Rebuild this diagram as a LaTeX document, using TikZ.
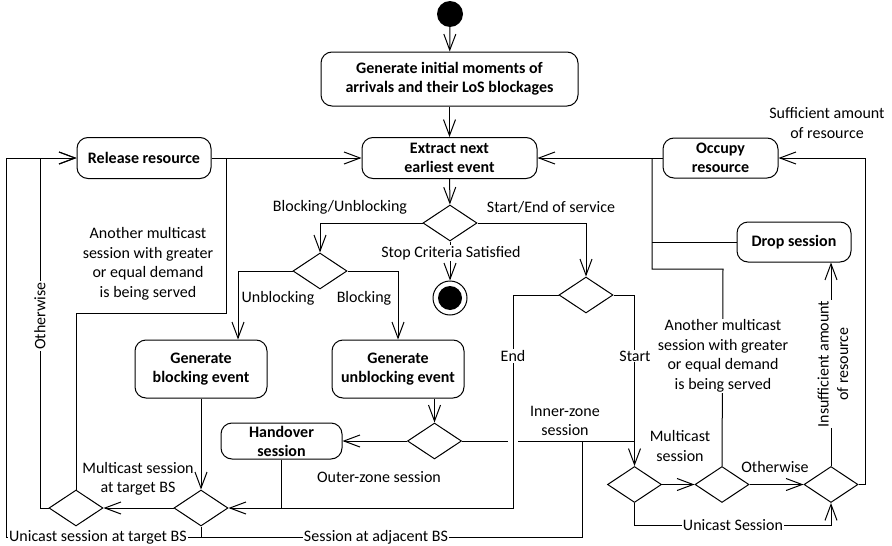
\documentclass[tikz,border=0pt]{standalone}
\usepackage{fontspec}
\setmainfont{Carlito}
\usetikzlibrary{arrows.meta,shapes.geometric,calc}
\begin{document}
\begin{tikzpicture}[x=1pt,y=-1pt,
  box/.style={draw, rounded corners=11pt, font=\bfseries\fontsize{16}{19}\selectfont, align=center, inner sep=0pt, line width=1pt},
  dec/.style={draw, diamond, minimum width=54pt, minimum height=36pt, inner sep=0pt, line width=1pt},
  ln/.style={draw, line width=1pt},
  flow/.style={ln, -{Straight Barb[length=16pt,width=12pt,line width=1pt]}},
  lbl/.style={font=\fontsize{16}{19.5}\selectfont, align=center, inner sep=1pt},
  lblw/.style={lbl, fill=white}]
\useasboundingbox (0,0) rectangle (892,546);

% nodes
\node[circle, fill, minimum size=26pt, inner sep=0pt] (start) at (450,14) {};
\node[box, minimum width=257pt, minimum height=54pt] (init) at (449.5,79) {Generate initial moments of\\arrivals and their LoS blockages};
\node[box, minimum width=175pt, minimum height=41pt] (extract) at (449.5,158) {Extract next\\earliest event};
\node[box, minimum width=134pt, minimum height=41pt] (release) at (144,158) {Release resource};
\node[box, minimum width=115pt, minimum height=40pt] (occupy) at (720.5,158) {Occupy\\resource};
\node[box, minimum width=114pt, minimum height=40pt] (drop) at (794,242) {Drop session};
\node[dec] (D1) at (450,223) {};
\node[dec] (D2) at (320,271) {};
\node[dec] (D3) at (586,295) {};
\node[circle, draw, line width=1pt, minimum size=34pt, inner sep=0pt] (final) at (450,298) {};
\fill (final.center) circle[radius=12pt];
\node[box, minimum width=132pt, minimum height=58pt] (genblock) at (201,369) {Generate\\blocking event};
\node[box, minimum width=132pt, minimum height=58pt] (genunblock) at (398,369) {Generate\\unblocking event};
\node[dec] (D4) at (434.5,441) {};
\node[box, minimum width=121pt, minimum height=36pt] (handover) at (281.5,441) {Handover\\session};
\node[dec] (DL) at (76,508) {};
\node[dec] (DM) at (201,508) {};
\node[dec] (D5) at (634.5,484.5) {};
\node[dec] (D6) at (722,484.5) {};
\node[dec] (D7) at (831,484.5) {};

% helper coordinates
\coordinate (cB) at (238,0);
\coordinate (cE) at (513,0);
\coordinate (hopL) at (508,441);
\coordinate (hopR) at (518,441);
\coordinate (cAdj) at (582,537);
\coordinate (cUni) at (6,537);
\coordinate (cOth) at (40,508);
\coordinate (cAn1) at (76,313);
\coordinate (cAn2) at (226,313);
\coordinate (cV) at (652,269);
\coordinate (cD6) at (723,269);
\coordinate (cSuf) at (865,484.5);
\coordinate (cUS) at (634.5,525);
\coordinate (cUS2) at (831,525);

% connectors
\draw[flow] (start) -- (init);
\draw[flow] (init) -- (extract);
\draw[flow] (extract) -- (D1);
\draw[flow] (D1.west) -| (D2.north);
\draw[flow] (D1.east) -| (D3.north);
\draw[flow] (D1.south) -- (final);
\draw[flow] (D2.west) -| (cB |- genblock.north);
\draw[flow] (D2.east) -| (genunblock.north);
\draw[flow] (genblock.south) -- (DM.north);
\draw[flow] (genunblock.south -| D4.north) -- (D4.north);
\draw[flow] (D4.west) -- (handover.east);
\draw[ln] (handover.south) -- (handover.south |- DM.east);
\draw[flow] (D3.west) -| (cE |- DM.east) -- (DM.east);
\draw[flow] (D3.east) -| (D5.north);
\draw[ln] (D4.east) -- (hopL);
\draw[ln] (hopR) -- (D5.north |- hopR);
\draw[flow] (DM.west) -- (DL.east);
\draw[flow] (DM.south) |- (cUni) |- (release.west);
\draw[ln] (DM.south |- cAdj) -- (cAdj) -- (cAdj |- hopR);
\draw[flow] (DL.west) -- (cOth) |- (release.west);
\draw[ln] (DL.north) -- (cAn1) -- (cAn2) -- (cAn2 |- extract.west);
\draw[flow] (release.east) -- (extract.west);
\draw[flow] (occupy.west) -- (extract.east);
\draw[ln] (drop.west) -- (cV |- drop.west);
\draw[ln] (D6.north) -- (cD6) -- (cV) -- (cV |- occupy.west);
\draw[flow] (D5.east) -- (D6.west);
\draw[flow] (D6.east) -- (D7.west);
\draw[flow] (D5.south) -- (cUS) -- (cUS2) -- (D7.south);
\draw[flow] (D7.north) -- (D7.north |- drop.south);
\draw[flow] (D7.east) -- (cSuf) |- (occupy.east);

% labels
\node[lbl] (lBU) at (340,207) {Blocking/Unblocking};
\node[lbl] (lSE) at (551,207) {Start/End of service};
\node[lblw] (lStop) at (451,253) {Stop Criteria Satisfied};
\node[lbl] (lUnb) at (278,298) {Unblocking};
\node[lbl] (lBlk) at (364,298) {Blocking};
\node[lblw] (lEnd) at (513,356) {End};
\node[lblw] (lStart) at (635,356) {Start};
\node[lbl] (lOuter) at (379,477) {Outer-zone session};
\node[lbl] (lInner) at (565,421) {Inner-zone\\session};
\node[lbl] (lMT) at (138,479) {Multicast session\\at target BS};
\node[lblw] (lUT) at (98,537) {Unicast session at target BS};
\node[lblw] (lAdj) at (376,537) {Session at adjacent BS};
\node[lblw, rotate=90] (lOth) at (40,316) {Otherwise};
\node[lbl] (lAn1) at (148,264) {Another multicast\\session with greater\\or equal demand\\is being served};
\node[lblw] (lAn2) at (723,356) {Another multicast\\session with greater\\or equal demand\\is being served};
\node[lbl] (lMS) at (680,446) {Multicast\\session};
\node[lbl] (lOth2) at (775,467) {Otherwise};
\node[lblw] (lUS) at (733,525) {Unicast Session};
\node[lblw, rotate=90] (lIns) at (833,364) {Insufficient amount\\of resource};
\node[lbl] (lSuf) at (827,123) {Sufficient amount\\of resource};
\end{tikzpicture}
\end{document}
